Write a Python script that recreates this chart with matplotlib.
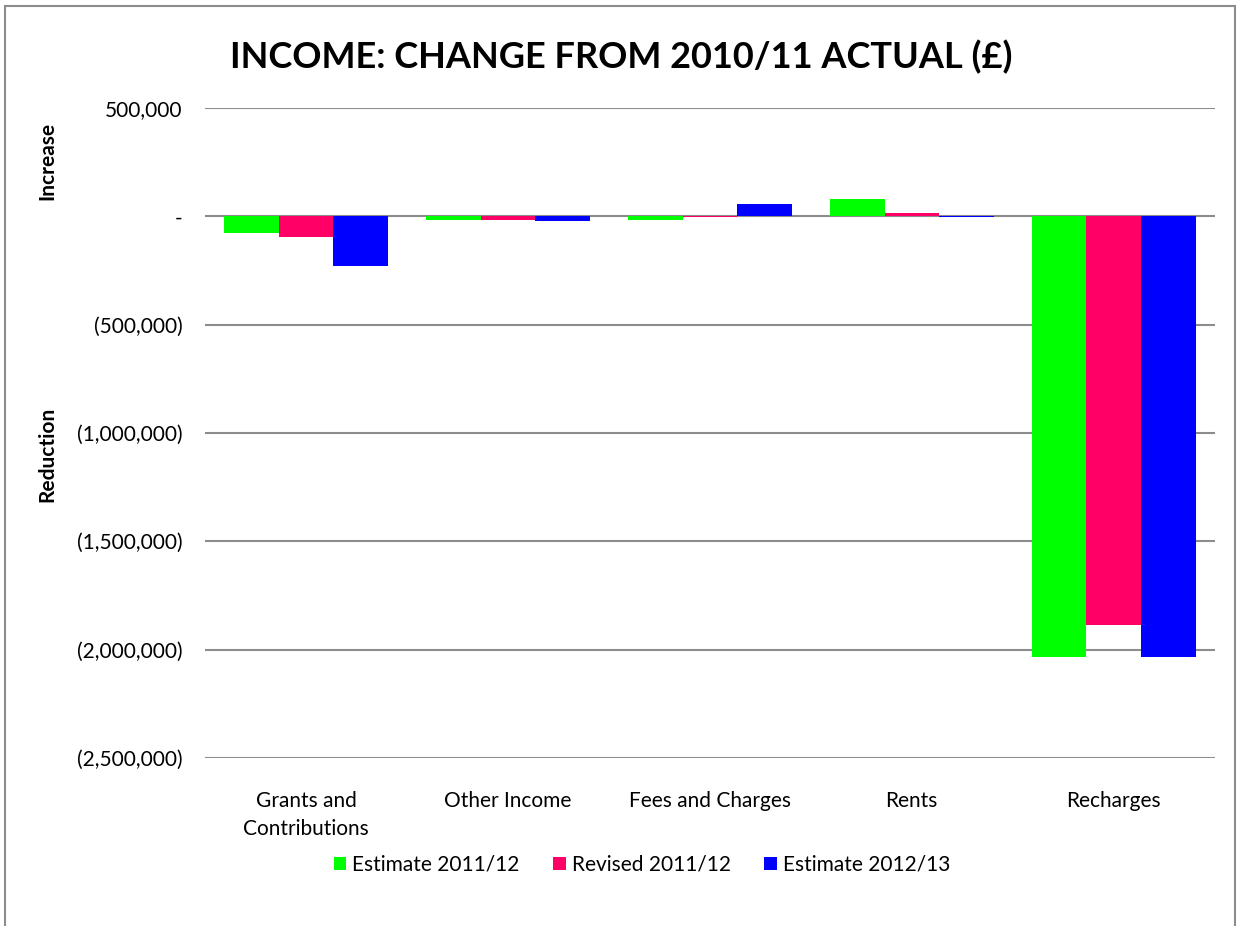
import matplotlib.pyplot as plt
import numpy as np
from matplotlib.patches import Rectangle
from matplotlib.ticker import FuncFormatter

plt.rcParams['font.family'] = ['Lato', 'DejaVu Sans']

categories = ['Grants and\nContributions', 'Other Income', 'Fees and Charges', 'Rents', 'Recharges']
series_names = ['Estimate 2011/12', 'Revised 2011/12', 'Estimate 2012/13']
estimate_1112 = [-78000, -19000, -18000, 82000, -2035000]
revised_1112 = [-97000, -18000, -2000, 14000, -1885000]
estimate_1213 = [-230000, -21000, 57000, -3000, -2035000]
colors = ['#00ff00', '#ff0066', '#0000ff']


def fmt(v, pos):
    if abs(v) < 1:
        return '-'
    if v < 0:
        return '({:,.0f})'.format(-v)
    return '{:,.0f}'.format(v)


fig = plt.figure(figsize=(12.37, 9.26), dpi=100)
ax = fig.add_axes([0.1657, 0.1814, 0.8163, 0.702])

x = np.arange(len(categories))
w = 0.27
for i, (vals, name) in enumerate(zip([estimate_1112, revised_1112, estimate_1213], series_names)):
    ax.bar(x + (i - 1) * w, vals, w, color=colors[i], label=name, zorder=3)

ax.set_ylim(-2500000, 500000)
ax.set_xlim(-0.5, len(categories) - 0.5)
ax.set_yticks(np.arange(-2500000, 500001, 500000))
ax.yaxis.set_major_formatter(FuncFormatter(fmt))
ax.grid(axis='y', color='#8c8c8c', linewidth=1.5, zorder=0)
for s in ax.spines.values():
    s.set_visible(False)
ax.tick_params(axis='y', length=0, pad=16, labelsize=15)
ax.tick_params(axis='x', length=0, pad=24, labelsize=15)
ax.set_xticks(x)
ax.set_xticklabels(categories, linespacing=1.5)

fig.text(0.502, 0.938, 'INCOME: CHANGE FROM 2010/11 ACTUAL (£)', ha='center', va='center',
         fontsize=26, fontweight='bold')
fig.text(0.038, 0.826, 'Increase', rotation=90, ha='center', va='center', fontsize=15, fontweight='bold')
fig.text(0.038, 0.509, 'Reduction', rotation=90, ha='center', va='center', fontsize=15, fontweight='bold')

fig.legend(loc='center', bbox_to_anchor=(0.519, 0.066), ncol=3, frameon=False, fontsize=15,
           handlelength=0.6, handleheight=0.6, handletextpad=0.3, columnspacing=1.6)

fig.patches.append(Rectangle((0.004, -0.1), 0.994, 1.094, transform=fig.transFigure,
                             fill=False, edgecolor='#8c8c8c', linewidth=1.5))

fig.savefig('out.png', dpi=100)
